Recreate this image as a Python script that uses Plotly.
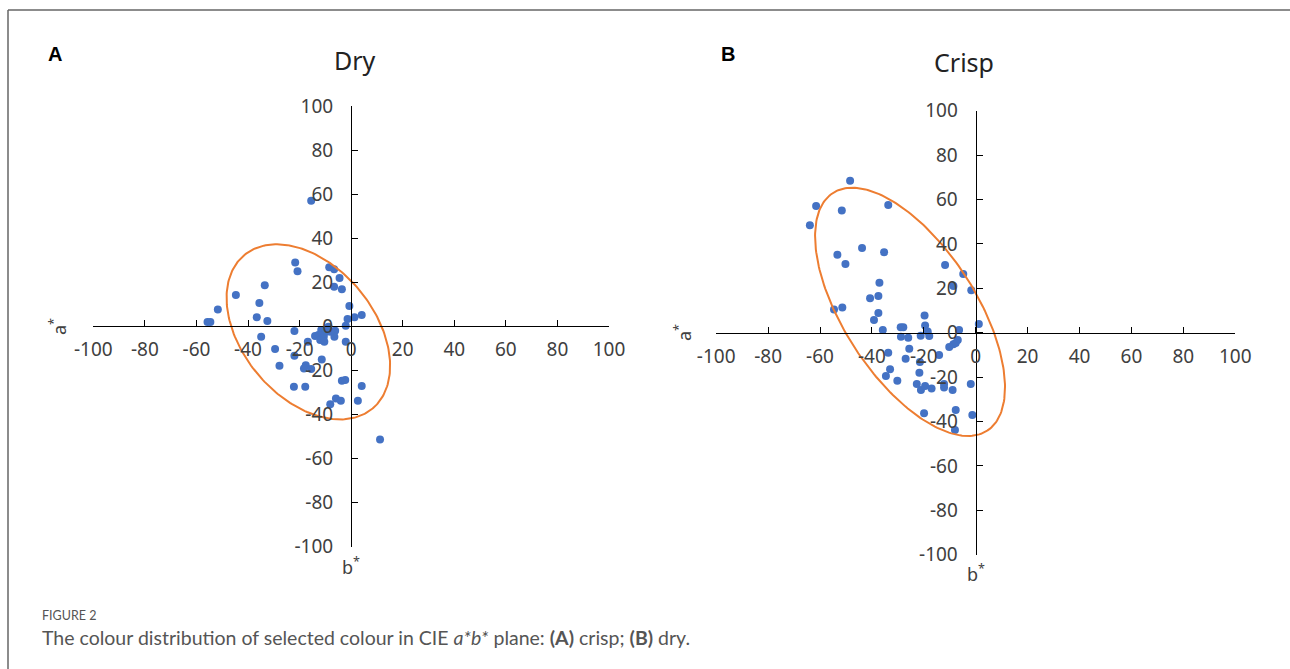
import numpy as np
import plotly.graph_objects as go

W, H = 1290, 669

# ---------------- data (b*, a*) ----------------
dry_b = [-15.5, -21.7, -20.8, -8.5, -6.6, -4.5, -6.6, -3.6, -33.5, -44.7, -51.7, -55.7, -54.6,
         -35.6, -36.6, -32.5, -34.9, -22.0, -29.5, -22.0, -27.8, -17.6, -18.3, -15.5, -16.8,
         -11.4, -11.6, -10.1, -12.7, -14.0, -10.6, -8.8, -6.2, -6.5, -12.0, -10.4, -8.1,
         -0.7, -1.4, 1.3, 4.1, -2.1, -2.1, -3.6, -2.3, 4.1, -22.2, -17.8, -5.9, -4.0, -8.1,
         2.6, 11.2]
dry_a = [57.0, 29.0, 25.0, 26.8, 25.9, 21.9, 18.0, 16.8, 18.7, 14.2, 7.7, 2.0, 2.0,
         10.6, 4.1, 2.4, -4.7, -2.1, -10.3, -13.3, -17.9, -17.6, -19.1, -19.4, -7.0,
         -15.0, -1.7, -2.7, -3.9, -4.4, -4.7, -0.2, -2.0, -4.7, -6.2, -7.0, -2.5,
         9.2, 3.3, 4.1, 5.1, 0.3, -7.0, -24.7, -24.4, -27.1, -27.4, -27.4, -32.7, -33.8, -35.3,
         -33.8, -51.3]

crisp_b = [-48.4, -61.5, -51.6, -33.7, -63.9, -53.3, -50.2, -43.8, -35.3, -37.1, -40.7, -37.5,
           -54.6, -51.4, -37.5, -39.2, -35.8, -33.7, -33.0, -34.6, -30.2, -28.9, -27.9, -28.8,
           -26.0, -25.6, -27.0, -21.2, -19.7, -19.5, -18.5, -17.9, -14.1, -21.5, -21.7, -22.7,
           -21.1, -19.5, -17.0, -12.2, -12.2, -8.9, -19.9, -7.7, -8.0, -1.3, -1.9, -11.8, -4.8,
           -1.7, -8.6, 1.2, -6.4, -6.9, -7.7, -8.6, -10.2]
crisp_a = [68.5, 57.1, 55.0, 57.5, 48.4, 35.1, 30.9, 38.2, 36.2, 22.5, 15.5, 16.5,
           10.4, 11.4, 8.9, 5.7, 1.2, -9.0, -16.5, -19.5, -21.6, 2.4, 2.4, -1.8,
           -2.3, -7.2, -11.7, -1.4, 7.8, 3.2, 0.5, -1.5, -10.0, -13.2, -18.0, -23.1,
           -25.8, -24.0, -25.1, -23.1, -24.7, -25.8, -36.3, -34.8, -43.8, -37.1, -23.1, 30.5, 26.4,
           19.1, 21.0, 3.9, 1.2, -3.3, -4.6, -5.2, -6.4]

tick_vals = [-100, -80, -60, -40, -20, 0, 20, 40, 60, 80, 100]
tick_text = [str(v) for v in tick_vals]

# confidence ellipses: centre in data units, semi-axes in screen px, tilt in degrees (screen)
ell_dry = dict(cx=-16.6, cy=-2.5, a=100.0, b=66.0, ang=50.0)
ell_crisp = dict(cx=-25.3, cy=9.4, a=141.7, b=66.0, ang=57.0)

# ---------------- layout geometry (pixels) ----------------
A_x = (93.3, 609.0)
A_y = (106.0, 546.7)
B_x = (716.2, 1235.2)
B_y = (110.7, 554.7)

def px2paper_x(p):
    return p / W

def px2paper_y(p):
    return 1 - p / H

BLUE = "#4472C4"
ORANGE = "#ED7D31"
TICKFONT = dict(family="Noto Sans", size=19, color="#404040")


def ellipse(e, xdom, ydom):
    sx = (xdom[1] - xdom[0]) / 200.0
    sy = (ydom[1] - ydom[0]) / 200.0
    t = np.linspace(0, 2 * np.pi, 240)
    th = np.deg2rad(e["ang"])
    xp = e["a"] * np.cos(t) * np.cos(th) - e["b"] * np.sin(t) * np.sin(th)
    yp = e["a"] * np.cos(t) * np.sin(th) + e["b"] * np.sin(t) * np.cos(th)
    return e["cx"] + xp / sx, e["cy"] - yp / sy


fig = go.Figure()

for (bx, ay, ell, xdom, ydom, xa, ya) in [
    (dry_b, dry_a, ell_dry, A_x, A_y, "x", "y"),
    (crisp_b, crisp_a, ell_crisp, B_x, B_y, "x2", "y2"),
]:
    fig.add_trace(go.Scatter(x=bx, y=ay, mode="markers", xaxis=xa, yaxis=ya,
                             marker=dict(color=BLUE, size=8), hoverinfo="skip"))
    ex, ey = ellipse(ell, xdom, ydom)
    fig.add_trace(go.Scatter(x=ex, y=ey, mode="lines", xaxis=xa, yaxis=ya,
                             line=dict(color=ORANGE, width=2), hoverinfo="skip"))


def xaxis_cfg(xdom, ydom):
    return dict(domain=[px2paper_x(xdom[0]), px2paper_x(xdom[1])], range=[-100, 100],
                anchor="free", position=px2paper_y((ydom[0] + ydom[1]) / 2),
                tickvals=tick_vals, ticktext=tick_text, ticks="inside", ticklen=6,
                tickcolor="#000", tickwidth=1.2, showline=True, linecolor="#000", linewidth=1.3,
                showgrid=False, zeroline=False, tickfont=TICKFONT, ticklabelstandoff=6,
                automargin=False, fixedrange=True)


def yaxis_cfg(xdom, ydom):
    return dict(domain=[px2paper_y(ydom[1]), px2paper_y(ydom[0])], range=[-100, 100],
                anchor="free", position=px2paper_x((xdom[0] + xdom[1]) / 2),
                tickvals=tick_vals, ticktext=tick_text, ticks="inside", ticklen=6,
                tickcolor="#000", tickwidth=1.2, showline=True, linecolor="#000", linewidth=1.3,
                showgrid=False, zeroline=False, tickfont=TICKFONT, ticklabelstandoff=14,
                automargin=False, fixedrange=True)


fig.update_layout(
    width=W, height=H, autosize=False,
    margin=dict(l=0, r=0, t=0, b=0, pad=0, autoexpand=False),
    paper_bgcolor="white", plot_bgcolor="white", showlegend=False,
    xaxis=xaxis_cfg(A_x, A_y), yaxis=yaxis_cfg(A_x, A_y),
    xaxis2=xaxis_cfg(B_x, B_y), yaxis2=yaxis_cfg(B_x, B_y),
)

ann = []
def text(x, y, s, size, color="#222", family="Noto Sans", angle=0, xanchor="center", yanchor="middle"):
    ann.append(dict(x=px2paper_x(x), y=px2paper_y(y), xref="paper", yref="paper", text=s,
                    showarrow=False, textangle=angle, xanchor=xanchor, yanchor=yanchor,
                    font=dict(family=family, size=size, color=color)))

text(355, 60, "Dry", 25)
text(964, 62, "Crisp", 25)
text(55, 54, "<b>A</b>", 20, color="#000", family="Liberation Sans")
text(728, 54, "<b>B</b>", 20, color="#000", family="Liberation Sans")
text(58, 327, "a<sup>*</sup>", 18, color="#404040", angle=-90)
text(683, 333, "a<sup>*</sup>", 18, color="#404040", angle=-90)
text(351, 566, "b<sup>*</sup>", 18, color="#404040")
text(976, 573, "b<sup>*</sup>", 18, color="#404040")
text(40, 615, "FIGURE 2", 12.5, color="#555", family="Lato", xanchor="left")
text(40, 637, "The colour distribution of selected colour in CIE <i>a*b*</i> plane: <b>(A)</b> crisp; <b>(B)</b> dry.",
     19.5, color="#555", family="Lato", xanchor="left")
fig.update_layout(annotations=ann)

# frame lines
fig.add_shape(type="line", xref="paper", yref="paper", x0=px2paper_x(8), x1=1,
              y0=px2paper_y(10), y1=px2paper_y(10), line=dict(color="#666", width=1.5))
fig.add_shape(type="line", xref="paper", yref="paper", x0=px2paper_x(8), x1=px2paper_x(8),
              y0=0, y1=px2paper_y(10), line=dict(color="#666", width=1.5))

fig.write_html("out.html", config={"displayModeBar": False},
               post_script="document.body.style.margin='0';document.body.style.overflow='hidden';")
